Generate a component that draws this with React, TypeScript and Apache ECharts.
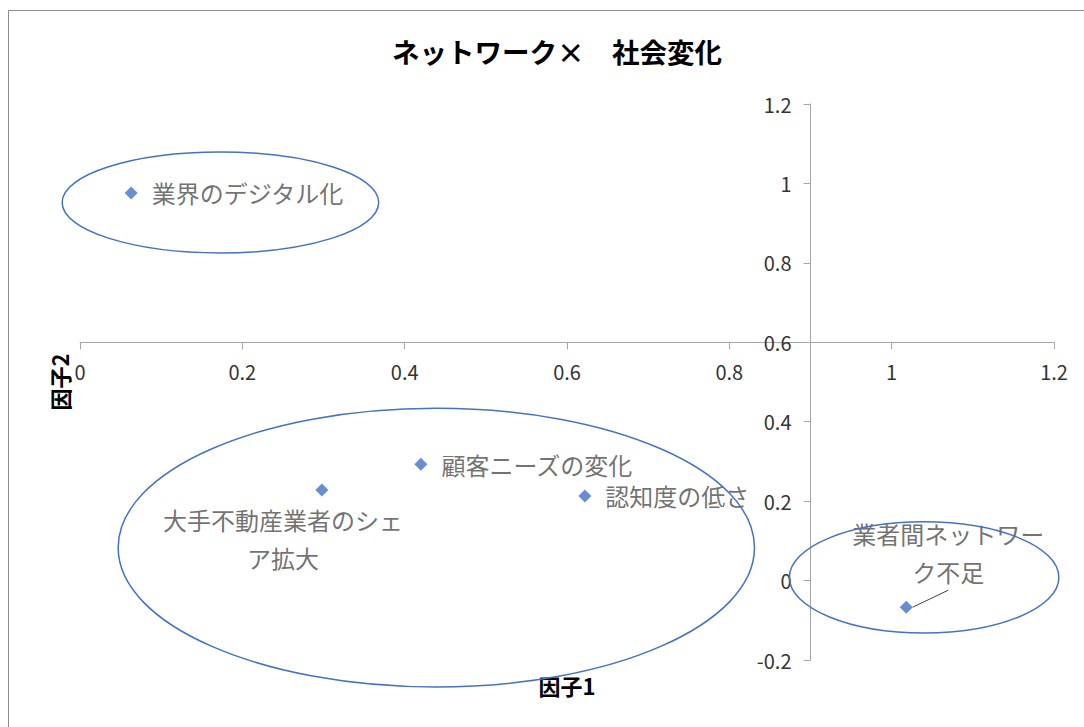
import React, { useEffect, useRef } from "react";
import * as echarts from "echarts";

// ---- data ----
const itemNames: string[] = [
  "業界のデジタル化",
  "顧客ニーズの変化",
  "大手不動産業者のシェア拡大",
  "認知度の低さ",
  "業者間ネットワーク不足",
];
const factor1: number[] = [0.063, 0.42, 0.298, 0.622, 1.018];
const factor2: number[] = [0.976, 0.293, 0.228, 0.213, -0.067];

const xTicks = { min: 0, max: 1.2, interval: 0.2 };
const yTicks = { min: -0.2, max: 1.2, interval: 0.2 };
const xCross = 0.9; // value of factor1 where the vertical axis crosses
const yCross = 0.6; // value of factor2 where the horizontal axis crosses

// grouping ellipses in data units: [cx, cy, rx, ry]
const ellipses: number[][] = [
  [0.173, 0.952, 0.195, 0.127],
  [0.439, 0.083, 0.392, 0.351],
  [1.04, 0.008, 0.166, 0.14],
];

const titleText = "ネットワーク×　社会変化";
const xName = "因子1";
const yName = "因子2";

const FONT = '"Noto Sans CJK JP", "Noto Sans", sans-serif';

export default function App() {
  const ref = useRef<HTMLDivElement>(null);
  useEffect(() => {
    if (!ref.current) return;
    const chart = echarts.init(ref.current, null, { renderer: "svg" });
    const W = 1084;
    const H = 727;
    const gl = 80, gt = 104, gw = 974, gh = 556;
    const xFrac = (xCross - xTicks.min) / (xTicks.max - xTicks.min);
    const yFrac = (yTicks.max - yCross) / (yTicks.max - yTicks.min);

    const axisGray = "#a6a6a6";
    const tickLabel = { color: "#333333", fontSize: 20, fontFamily: FONT };

    const labelBase = {
      show: true,
      color: "#4d4d4d",
      fontSize: 24,
      fontFamily: FONT,
      formatter: "{b}",
    };

    const data = itemNames.map((n, i) => {
      const item: any = { name: n, value: [factor1[i], factor2[i]] };
      if (i === 2) {
        item.label = {
          ...labelBase,
          position: "bottom",
          distance: 4,
          width: 250,
          overflow: "break",
          align: "center",
          lineHeight: 38,
        };
      } else if (i === 4) {
        item.label = {
          ...labelBase,
          position: "inside",
          width: 200,
          overflow: "break",
          align: "center",
          verticalAlign: "middle",
          lineHeight: 38,
        };
        item.labelLine = { show: true, lineStyle: { color: "#404040", width: 1 } };
      }
      return item;
    });

    chart.setOption({
      animation: false,
      backgroundColor: "#fff",
      title: {
        text: titleText,
        left: 387,
        top: 32,
        textStyle: { fontSize: 27.5, fontWeight: "bold", color: "#000", fontFamily: FONT },
      },
      grid: [
        { left: gl, top: gt, width: gw, height: gh },
        { left: gl, top: gt, width: gw, height: gh * yFrac },
        { left: gl + gw * xFrac, top: gt, width: gw * (1 - xFrac), height: gh },
      ],
      xAxis: [
        {
          gridIndex: 0,
          type: "value",
          ...xTicks,
          axisLine: { show: false },
          axisTick: { show: false },
          axisLabel: { show: false },
          splitLine: { show: false },
          name: xName,
          nameLocation: "middle",
          nameGap: 14,
          nameTextStyle: { fontSize: 22, fontWeight: "bold", color: "#000", fontFamily: FONT },
        },
        {
          gridIndex: 1,
          type: "value",
          ...xTicks,
          position: "bottom",
          axisLine: { show: true, onZero: false, lineStyle: { color: axisGray, width: 1 } },
          axisTick: { show: true, length: 7, lineStyle: { color: axisGray } },
          axisLabel: { ...tickLabel, margin: 19, showMinLabel: true, showMaxLabel: true },
          splitLine: { show: false },
        },
        { gridIndex: 2, type: "value", ...xTicks, show: false },
      ],
      yAxis: [
        {
          gridIndex: 0,
          type: "value",
          ...yTicks,
          axisLine: { show: false },
          axisTick: { show: false },
          axisLabel: { show: false },
          splitLine: { show: false },
          name: yName,
          nameLocation: "middle",
          nameRotate: 90,
          nameGap: 10,
          nameTextStyle: { fontSize: 22, fontWeight: "bold", color: "#000", fontFamily: FONT },
        },
        { gridIndex: 1, type: "value", ...yTicks, show: false },
        {
          gridIndex: 2,
          type: "value",
          ...yTicks,
          position: "left",
          axisLine: { show: true, onZero: false, lineStyle: { color: axisGray, width: 1 } },
          axisTick: { show: true, length: 7, lineStyle: { color: axisGray } },
          axisLabel: { ...tickLabel, margin: 19, showMinLabel: true, showMaxLabel: true },
          splitLine: { show: false },
        },
      ],
      series: [
        {
          type: "scatter",
          xAxisIndex: 0,
          yAxisIndex: 0,
          symbol: "diamond",
          symbolSize: 13,
          itemStyle: { color: "#4472C4" },
          label: { ...labelBase, position: "right", distance: 14 },
          labelLine: { show: false },
          labelLayout: (p: any) =>
            p.dataIndex === 4 ? { dx: 42, dy: -55 } : p.dataIndex === 2 ? { dx: -39 } : {},
          data,
          z: 5,
        },
      ],
    });

    const shapes: any[] = ellipses.map((e) => {
      const c = chart.convertToPixel({ xAxisIndex: 0, yAxisIndex: 0 }, [e[0], e[1]]) as number[];
      const p = chart.convertToPixel({ xAxisIndex: 0, yAxisIndex: 0 }, [e[0] + e[2], e[1] + e[3]]) as number[];
      return {
        type: "ellipse",
        shape: { cx: c[0], cy: c[1], rx: Math.abs(p[0] - c[0]), ry: Math.abs(p[1] - c[1]) },
        style: { fill: "none", stroke: "#4472C4", lineWidth: 1.5 },
        silent: true,
        z: 10,
      };
    });
    shapes.push({
      type: "rect",
      shape: { x: 8.5, y: 10.5, width: W + 20, height: H + 20 },
      style: { fill: "none", stroke: "#8c8c8c", lineWidth: 1 },
      silent: true,
      z: 0,
    });
    chart.setOption({ graphic: shapes });

    return () => chart.dispose();
  }, []);
  return (
    <div
      ref={ref}
      style={{ position: "absolute", left: 0, top: 0, width: 1084, height: 727 }}
    />
  );
}
